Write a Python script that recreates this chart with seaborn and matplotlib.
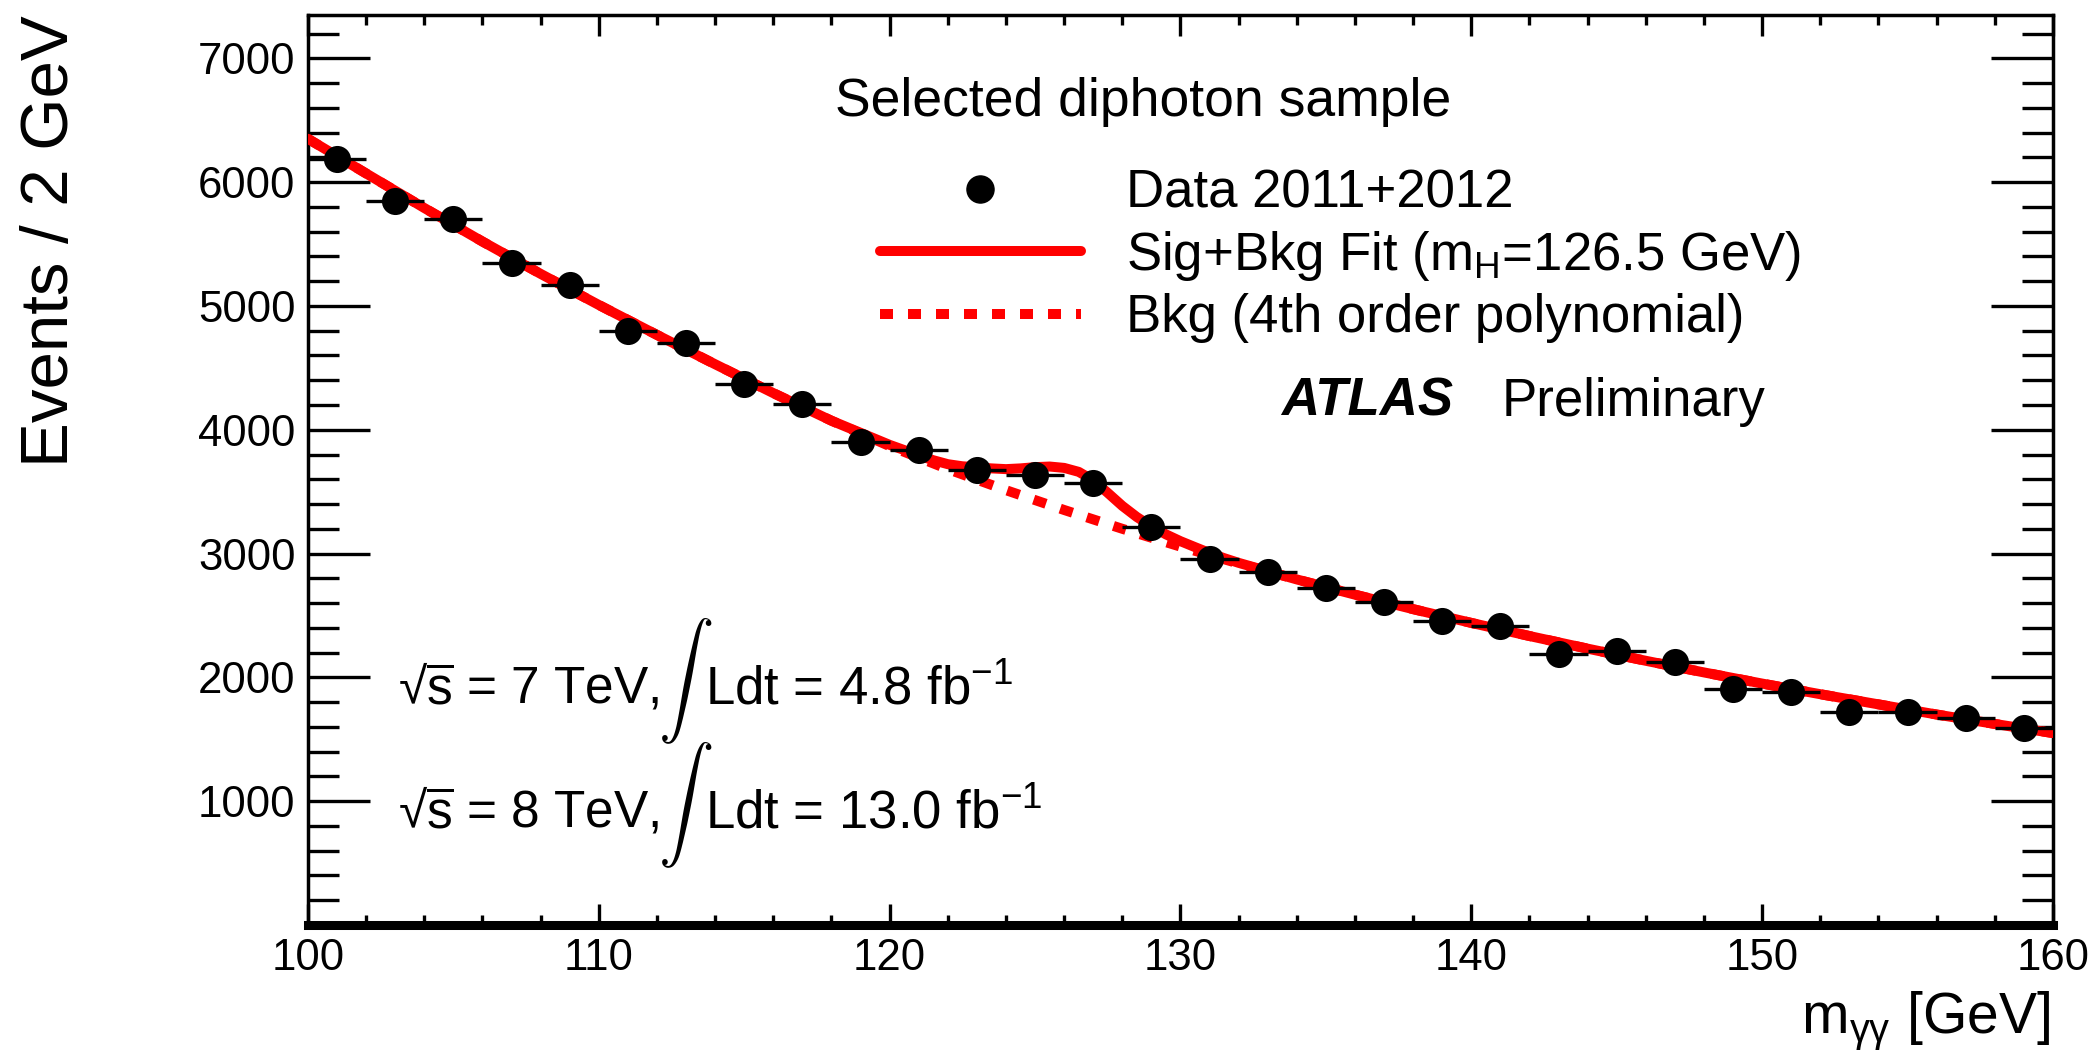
import numpy as np
import pandas as pd
import matplotlib
matplotlib.use("Agg")
import matplotlib.pyplot as plt
from matplotlib.lines import Line2D
from matplotlib.ticker import FixedLocator, MultipleLocator, FuncFormatter
import seaborn as sns

# ---- diphoton invariant mass spectrum (2 GeV bins) ----
bin_centres = [101, 103, 105, 107, 109, 111, 113, 115, 117, 119,
               121, 123, 125, 127, 129, 131, 133, 135, 137, 139,
               141, 143, 145, 147, 149, 151, 153, 155, 157, 159]
events = [6190, 5845, 5700, 5345, 5170, 4800, 4700, 4370, 4210, 3900,
          3836, 3675, 3631, 3571, 3218, 2955, 2848, 2719, 2606, 2452,
          2417, 2188, 2215, 2126, 1908, 1878, 1724, 1724, 1668, 1592]
bin_half_width = 1.0

# ---- background-only component of the fit (4th order polynomial) ----
bkg_mass = [100, 102, 104, 106, 108, 110, 112, 114, 116, 118, 120,
            122, 124, 126, 128, 130, 132, 134, 136, 138, 140,
            142, 144, 146, 148, 150, 152, 154, 156, 158, 160]
bkg_fit = [6350, 6070, 5791, 5520, 5259, 5008, 4766, 4529, 4296, 4073, 3868,
           3682, 3512, 3352, 3200, 3056, 2920, 2791, 2668, 2551, 2440,
           2334, 2232, 2134, 2040, 1950, 1864, 1782, 1700, 1624, 1550]

# ---- signal+background fit in the peak region ----
m_higgs = 126.5
peak_mass = [120.0, 120.5, 121.0, 121.5, 122.0, 122.5, 123.0, 123.5, 124.0,
             124.5, 125.0, 125.5, 126.0, 126.5, 127.0, 127.5, 128.0, 128.5,
             129.0, 129.5, 130.0, 130.5, 131.0, 131.5, 132.0]
sigbkg_peak = [3878, 3836, 3792, 3754, 3722, 3705, 3697, 3688, 3682,
               3688, 3698, 3703, 3692, 3660, 3592, 3490, 3385, 3295,
               3220, 3155, 3100, 3052, 3005, 2963, 2925]

x_ticks = [100, 110, 120, 130, 140, 150, 160]
y_ticks = [1000, 2000, 3000, 4000, 5000, 6000, 7000]
y_max = 7350

# full signal+background curve: background outside the peak window
sb_mass = ([m for m in bkg_mass if m < peak_mass[0]] + peak_mass +
           [m for m in bkg_mass if m > peak_mass[-1]])
sb_fit = ([b for m, b in zip(bkg_mass, bkg_fit) if m < peak_mass[0]] + sigbkg_peak +
          [b for m, b in zip(bkg_mass, bkg_fit) if m > peak_mass[-1]])

data = pd.DataFrame({"mass": bin_centres, "events": events})

sns.set_theme(style="ticks")
plt.rcParams["font.family"] = ["Liberation Sans", "DejaVu Sans"]
plt.rcParams["mathtext.fontset"] = "custom"
plt.rcParams["mathtext.rm"] = "Liberation Sans"
plt.rcParams["mathtext.it"] = "Liberation Sans:italic"
plt.rcParams["mathtext.bf"] = "Liberation Sans:bold"
for key in ["text.color", "axes.labelcolor", "xtick.color", "ytick.color",
            "axes.edgecolor"]:
    plt.rcParams[key] = "black"

W, H = 2097, 1050
fig = plt.figure(figsize=(W / 100, H / 100), dpi=100)
fig.patch.set_facecolor("white")
ax = fig.add_axes([308 / W, 1 - 925 / H, (2053 - 308) / W, (925 - 15) / H])
ax.set_facecolor("white")

RED = "#ff0000"
LW_FIT = 7.2
DOTTED = (0, (1.3, 1.5))

# fit curves
sns.lineplot(x=bkg_mass, y=bkg_fit, ax=ax, color=RED, linewidth=LW_FIT,
             linestyle=DOTTED, estimator=None, sort=False, zorder=2)
sns.lineplot(x=sb_mass, y=sb_fit, ax=ax, color=RED, linewidth=LW_FIT,
             estimator=None, sort=False, zorder=3)

# data points with bin-width bars
ax.errorbar(data["mass"], data["events"], xerr=bin_half_width, fmt="none",
            ecolor="black", elinewidth=2.4, capsize=0, zorder=4)
sns.scatterplot(data=data, x="mass", y="events", ax=ax, color="black",
                s=19.5 ** 2, marker="o", edgecolor="black", linewidth=0, zorder=5)

ax.set_xlim(100, 160)
ax.set_ylim(0, y_max)
ax.set_xlabel("")
ax.set_ylabel("")

ax.xaxis.set_major_locator(FixedLocator(x_ticks))
ax.xaxis.set_minor_locator(MultipleLocator(2))
ax.yaxis.set_major_locator(FixedLocator(y_ticks))
ax.yaxis.set_minor_locator(MultipleLocator(200))
ax.yaxis.set_major_formatter(FuncFormatter(lambda v, p: f"{int(v)}"))

ax.tick_params(axis="both", which="both", direction="in", top=True, right=True,
               color="black", width=2.4, labelcolor="black")
ax.tick_params(axis="x", which="major", length=15, labelsize=31.5, pad=9)
ax.tick_params(axis="x", which="minor", length=7.5)
ax.tick_params(axis="y", which="major", length=44.5, labelsize=31.5, pad=9)
ax.tick_params(axis="y", which="minor", length=22.3)
for side in ["left", "right", "top"]:
    ax.spines[side].set_linewidth(2.5)
    ax.spines[side].set_color("black")
ax.spines["bottom"].set_linewidth(6.5)
ax.spines["bottom"].set_color("black")


def fpos(x, y):
    return x / W, 1 - y / H


# axis titles
fig.text(*fpos(68, 15), "Events / 2 GeV", rotation=90, rotation_mode="anchor",
         ha="right", va="baseline", fontsize=48.4)
fig.text(*fpos(2050, 1033), r"m$_{\mathrm{\gamma\gamma}}$ [GeV]", ha="right",
         va="baseline", fontsize=41)

# legend
handles = [
    Line2D([], [], marker="o", color="black", linestyle="none", markersize=19.5),
    Line2D([], [], color=RED, linewidth=LW_FIT),
    Line2D([], [], color=RED, linewidth=LW_FIT, linestyle=DOTTED),
]
labels = ["Data 2011+2012",
          r"Sig+Bkg Fit (m$_{\mathrm{H}}$=" + f"{m_higgs} GeV)",
          "Bkg (4th order polynomial)"]
ax.legend(handles, labels, loc="upper left", bbox_to_anchor=fpos(880, 168),
          bbox_transform=fig.transFigure, frameon=False, fontsize=38,
          handlelength=3.8, handletextpad=0.87, labelspacing=0.2,
          borderpad=0, borderaxespad=0, numpoints=1)

fig.text(*fpos(835, 116), "Selected diphoton sample", ha="left",
         va="baseline", fontsize=38.5)
fig.text(*fpos(1281, 416), "ATLAS", ha="left", va="baseline", fontsize=38,
         fontweight="bold", fontstyle="italic")
fig.text(*fpos(1502, 416), "Preliminary", ha="left", va="baseline", fontsize=38)

# luminosity labels
for base, energy, lumi in [(704, "7", "4.8"), (828, "8", "13.0")]:
    fig.text(*fpos(398, base), "\u221a" + r"$\overline{\mathrm{s}}$ = " + energy + " TeV,",
             ha="left", va="baseline", fontsize=37)
    fig.text(*fpos(685, base - 23), r"$\int$", ha="center", va="center",
             fontsize=40, math_fontfamily="cm")
    fig.text(*fpos(705, base), "Ldt = " + lumi + r" fb$^{\mathrm{-1}}$",
             ha="left", va="baseline", fontsize=38)

fig.savefig("out.png", dpi=100, facecolor="white")
